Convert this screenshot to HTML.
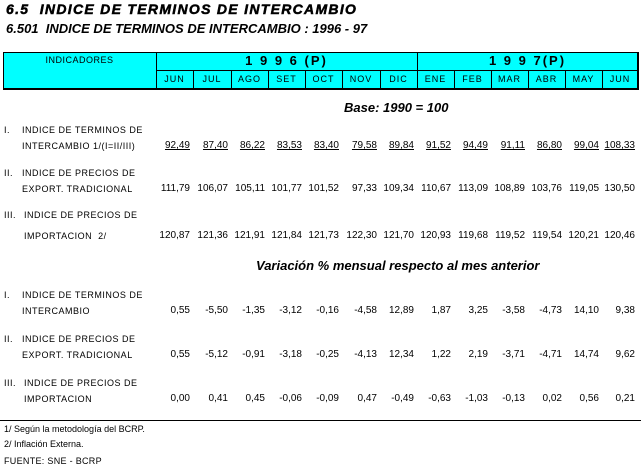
<!DOCTYPE html>
<html><head><meta charset="utf-8"><style>
body{margin:0;width:641px;height:468px;background:#fff;position:relative;font-family:"Liberation Sans",Arial,sans-serif;color:#000;overflow:hidden}
.a{position:absolute;white-space:nowrap;font-size:10px;line-height:12px}
.t1{position:absolute;left:6px;top:1px;font-size:14px;font-weight:bold;font-style:italic;letter-spacing:1.3px;-webkit-text-stroke:0.5px #000}
.t2{position:absolute;left:6px;top:21px;font-size:13px;font-style:italic;font-weight:bold}
.hdr{position:absolute;left:3px;top:52px;width:633px;height:35px;background:#0ff;border:1px solid #000;border-right:2px solid #000;border-bottom:2px solid #000}
.v{position:absolute;width:37px;text-align:right;font-size:10px;line-height:12px}
.u{text-decoration:underline}
.it{position:absolute;font-style:italic;font-weight:bold;font-size:13px}
</style></head><body>
<div class="t1">6.5&nbsp; INDICE DE TERMINOS DE INTERCAMBIO</div>
<div class="t2">6.501&nbsp; INDICE DE TERMINOS DE INTERCAMBIO : 1996 - 97</div>
<div class="hdr"></div>
<div id="grid"></div>
<div class="it" style="left:344px;top:100px">Base: 1990 = 100</div>
<div class="it" style="left:256px;top:258px">Variación % mensual respecto al mes anterior</div>
<div style="position:absolute;left:0;top:420px;width:641px;height:1px;background:#000"></div>
<div class="a" style="left:4px;top:423px;font-size:9px">1/ Según la metodología del BCRP.</div>
<div class="a" style="left:4px;top:438px;font-size:9px">2/ Inflación Externa.</div>
<div class="a" style="left:4px;top:455px;font-size:9px;letter-spacing:0.3px">FUENTE: SNE - BCRP</div>
<script>
var e=[156,193,231,268,305,342,380,417,454,491,528,565,602,638];
var m=["JUN","JUL","AGO","SET","OCT","NOV","DIC","ENE","FEB","MAR","ABR","MAY","JUN"];
var h="";
h+='<div style="position:absolute;left:156px;top:52px;width:1px;height:36px;background:#000"></div>';
h+='<div style="position:absolute;left:417px;top:52px;width:1px;height:36px;background:#000"></div>';
h+='<div style="position:absolute;left:156px;top:70px;width:482px;height:1px;background:#000"></div>';
for(var i=1;i<13;i++)h+='<div style="position:absolute;left:'+e[i]+'px;top:70px;width:1px;height:18px;background:#000"></div>';
for(var i=0;i<13;i++)h+='<div class="a" style="left:'+e[i]+'px;width:'+(e[i+1]-e[i])+'px;text-align:center;top:73px;font-size:9px;letter-spacing:1px">'+m[i]+'</div>';
h+='<div class="a" style="left:3px;width:153px;text-align:center;top:54px;font-size:9px;letter-spacing:0.5px">INDICADORES</div>';
h+='<div class="a" style="left:156px;width:261px;text-align:center;top:53px;font-size:13px;line-height:15px;font-weight:bold;letter-spacing:2px">1 9 9 6 (P)</div>';
h+='<div class="a" style="left:417px;width:221px;text-align:center;top:53px;font-size:13px;line-height:15px;font-weight:bold;letter-spacing:2px">1 9 9 7(P)</div>';
function lab(x,y,t){h+='<div class="a" style="left:'+x+'px;top:'+y+'px;font-size:9px;letter-spacing:0.5px">'+t+'</div>';}
function row(y,vals,u){for(var i=0;i<13;i++)h+='<div class="v'+(u?' u':'')+'" style="left:'+(e[i+1]-40)+'px;top:'+y+'px">'+vals[i]+'</div>';}
lab(4,124,"I.");lab(22,124,"INDICE DE TERMINOS DE");lab(22,140,"INTERCAMBIO 1/(I=II/III)");
row(140,"92,49 87,40 86,22 83,53 83,40 79,58 89,84 91,52 94,49 91,11 86,80 99,04 108,33".split(" "),1);
lab(4,167,"II.");lab(22,167,"INDICE DE PRECIOS DE");lab(22,183,"EXPORT. TRADICIONAL");
row(183,"111,79 106,07 105,11 101,77 101,52 97,33 109,34 110,67 113,09 108,89 103,76 119,05 130,50".split(" "));
lab(4,209,"III.");lab(24,209,"INDICE DE PRECIOS DE");lab(24,230,"IMPORTACION&nbsp; 2/");
row(230,"120,87 121,36 121,91 121,84 121,73 122,30 121,70 120,93 119,68 119,52 119,54 120,21 120,46".split(" "));
lab(4,289,"I.");lab(22,289,"INDICE DE TERMINOS DE");lab(22,305,"INTERCAMBIO");
row(305,"0,55 -5,50 -1,35 -3,12 -0,16 -4,58 12,89 1,87 3,25 -3,58 -4,73 14,10 9,38".split(" "));
lab(4,333,"II.");lab(22,333,"INDICE DE PRECIOS DE");lab(22,349,"EXPORT. TRADICIONAL");
row(349,"0,55 -5,12 -0,91 -3,18 -0,25 -4,13 12,34 1,22 2,19 -3,71 -4,71 14,74 9,62".split(" "));
lab(4,377,"III.");lab(24,377,"INDICE DE PRECIOS DE");lab(24,393,"IMPORTACION");
row(393,"0,00 0,41 0,45 -0,06 -0,09 0,47 -0,49 -0,63 -1,03 -0,13 0,02 0,56 0,21".split(" "));
document.getElementById("grid").innerHTML=h;
</script>
</body></html>
